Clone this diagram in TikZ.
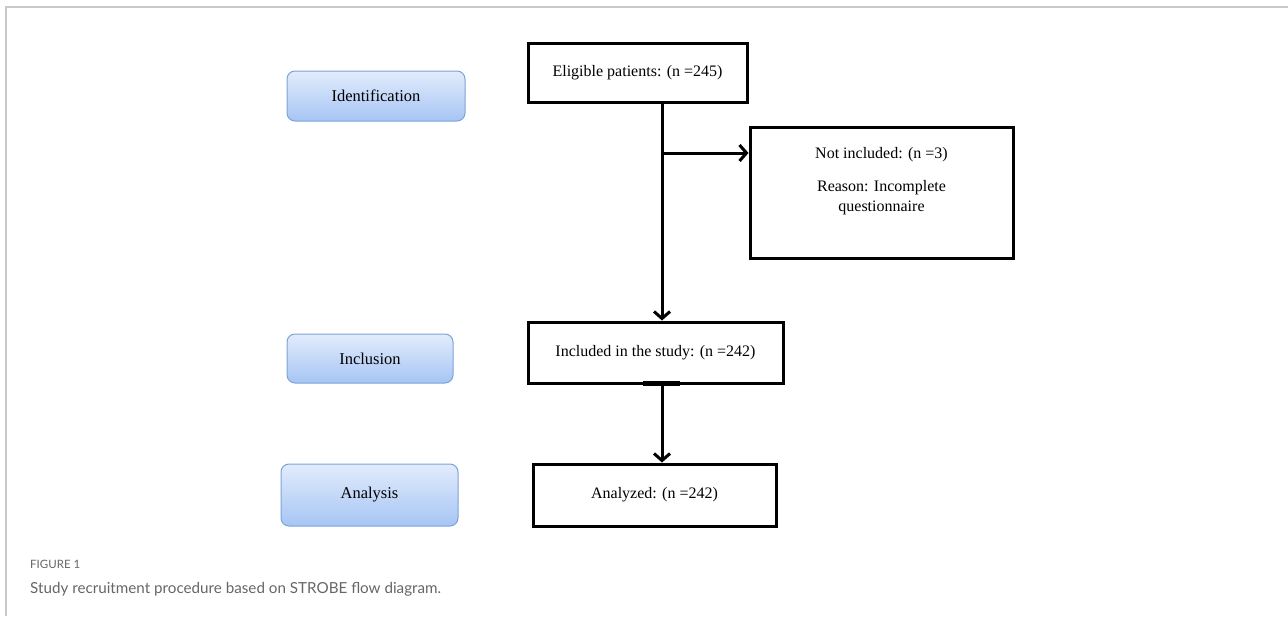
\documentclass[tikz,border=0pt]{standalone}
\usepackage{fontspec}
\setmainfont{Liberation Serif}
\newfontfamily\capfont{Lato}
\usetikzlibrary{arrows.meta}
\definecolor{stagetop}{HTML}{E2ECFC}
\definecolor{stagebot}{HTML}{A6C5F4}
\definecolor{stageline}{HTML}{7CA3D8}
\definecolor{framegray}{HTML}{C9C9C9}
\definecolor{capgray}{HTML}{666666}
\tikzset{
  stagebox/.style={draw=stageline, line width=1pt, rounded corners=8pt,
    top color=stagetop, bottom color=stagebot, font=\fontsize{16.5}{19}\selectfont,
    inner sep=0pt},
  flowbox/.style={draw=black, line width=3pt, fill=white, inner sep=0pt,
    font=\fontsize{16}{19}\selectfont, align=center},
  flowarrow/.style={draw=black, line width=3pt,
    -{Straight Barb[length=7pt,width=16pt]}},
  captext/.style={anchor=north west, inner sep=0pt, text=capgray}
}
\begin{document}
\begin{tikzpicture}[x=1pt,y=-1pt]
\useasboundingbox (0,0) rectangle (1288,616);
% frame
\draw[framegray, line width=1.6pt] (6,616) -- (6,7) -- (1288,7);
% stage boxes
\node[stagebox, minimum width=178pt, minimum height=50pt] (ident) at (376,96) {Identification};
\node[stagebox, minimum width=166pt, minimum height=49pt] (inclst) at (370,358.5) {Inclusion};
\node[stagebox, minimum width=177pt, minimum height=62pt] (analst) at (369.5,495) {Analysis};
% flow boxes
\node[flowbox, minimum width=219pt, minimum height=59pt] (elig) at (637.5,72.5) {Eligible patients: (n =245)};
\node[flowbox, minimum width=263pt, minimum height=131pt] (notinc) at (881.5,192.5) {};
\node[inner sep=0pt, align=center, anchor=north, font=\fontsize{16}{20}\selectfont] (notinctext) at (881.5,147) {Not included: (n =3)\\[13pt]Reason: Incomplete\\questionnaire};
\node[flowbox, minimum width=255pt, minimum height=61pt] (incl) at (655.5,352.5) {Included in the study: (n =242)};
\node[flowbox, minimum width=243pt, minimum height=62pt] (anal) at (654.5,495) {Analyzed: (n =242)};
% connectors
\coordinate (vx) at (662,0);
\coordinate (br) at (662,153);
\draw[flowarrow] (elig.south -| vx) -- (incl.north -| vx);
\draw[flowarrow] (br) -- (notinc.west |- br);
\draw[black, line width=5pt] (643,383) -- (680,383);
\draw[flowarrow] (incl.south -| vx) -- (anal.north -| vx);
% caption
\node[captext, font=\capfont\fontsize{11.5}{14}\selectfont] (figlabel) at (30,560) {FIGURE 1};
\node[captext, font=\capfont\fontsize{15.2}{18}\selectfont] (figcap) at (30,582) {Study recruitment procedure based on STROBE flow diagram.};
\end{tikzpicture}
\end{document}
